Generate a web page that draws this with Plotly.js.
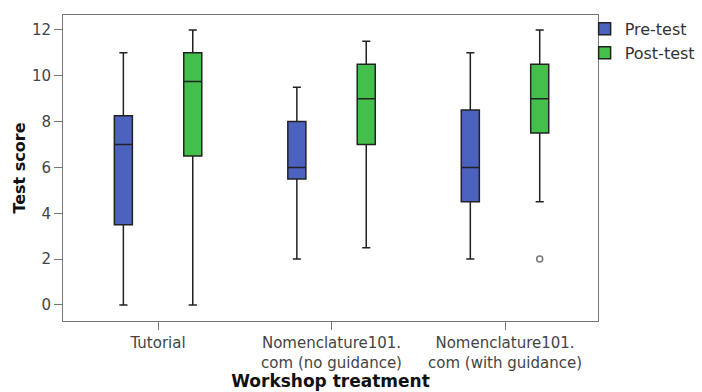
<!DOCTYPE html>
<html>
<head>
<meta charset="utf-8">
<script src="https://cdn.plot.ly/plotly-3.0.1.min.js"></script>
<style>html,body{margin:0;padding:0;background:#fff;}#chart{width:702px;height:392px;}</style>
</head>
<body>
<div id="chart"></div>
<script>
// Categories (tick labels)
var categories = ["Tutorial", "Nomenclature101.<br>com (no guidance)", "Nomenclature101.<br>com (with guidance)"];

// Pre-test box statistics
var preLower  = [0, 2, 2];
var preQ1     = [3.5, 5.5, 4.5];
var preMedian = [7, 6, 6];
var preQ3     = [8.25, 8, 8.5];
var preUpper  = [11, 9.5, 11];

// Post-test box statistics
var postLower  = [0, 2.5, 4.5];
var postQ1     = [6.5, 7, 7.5];
var postMedian = [9.75, 9, 9];
var postQ3     = [11, 10.5, 10.5];
var postUpper  = [12, 11.5, 12];

// Post-test outliers
var outlierCategoryIndex = [2];
var outlierValues = [2];

var BOXGAP = 0.2;
var groupOffset = 0.5 * (1 - BOXGAP) / 2; // offset of 2nd box in a group

var font = "DejaVu Sans, sans-serif";

var traces = [
  {
    type: "box", name: "Pre-test", x: categories,
    q1: preQ1, median: preMedian, q3: preQ3, lowerfence: preLower, upperfence: preUpper,
    fillcolor: "#4b62bf", line: {color: "#222", width: 1.5}, whiskerwidth: 0.45,
    boxpoints: false, hoverinfo: "y"
  },
  {
    type: "box", name: "Post-test", x: categories,
    q1: postQ1, median: postMedian, q3: postQ3, lowerfence: postLower, upperfence: postUpper,
    fillcolor: "#45bf4b", line: {color: "#222", width: 1.5}, whiskerwidth: 0.45,
    boxpoints: false, hoverinfo: "y"
  },
  {
    type: "scatter", mode: "markers", xaxis: "x2", showlegend: false,
    x: outlierCategoryIndex.map(function(i){ return i + groupOffset; }),
    y: outlierValues,
    marker: {symbol: "circle-open", size: 6, color: "#777", line: {width: 1.5, color: "#777"}}
  }
];

var xRange = [-0.548, 2.536];

var layout = {
  width: 702, height: 392,
  margin: {l: 63, r: 104, t: 15, b: 71, autoexpand: false},
  paper_bgcolor: "#fff", plot_bgcolor: "#fff",
  boxmode: "group", boxgap: BOXGAP, boxgroupgap: 0.74,
  font: {family: font, size: 14, color: "#333"},
  xaxis: {
    type: "category", range: xRange,
    showline: true, linecolor: "#777", linewidth: 1, mirror: true,
    ticks: "outside", ticklen: 8, tickcolor: "#777", showgrid: false, zeroline: false,
    tickfont: {family: font, size: 15, color: "#444"},
    title: {text: "Workshop treatment", font: {family: font, size: 17, color: "#111", weight: "bold"}, standoff: 4}
  },
  xaxis2: {
    overlaying: "x", range: xRange, visible: false, showgrid: false, zeroline: false
  },
  yaxis: {
    range: [-0.7, 12.65], tickvals: [0, 2, 4, 6, 8, 10, 12],
    showline: true, linecolor: "#777", linewidth: 1, mirror: true,
    ticks: "outside", ticklen: 8, tickcolor: "#777", showgrid: false, zeroline: false,
    tickfont: {family: font, size: 15, color: "#444"},
    title: {text: "Test score", font: {family: font, size: 16, color: "#111", weight: "bold"}, standoff: 2}
  },
  legend: {
    x: 0.975, xanchor: "left", y: 1.01, yanchor: "top",
    font: {family: font, size: 16, color: "#333"},
    tracegroupgap: 0, itemwidth: 30, bgcolor: "rgba(0,0,0,0)"
  },
  showlegend: true
};

Plotly.newPlot("chart", traces, layout, {displayModeBar: false, staticPlot: true});
</script>
</body>
</html>
